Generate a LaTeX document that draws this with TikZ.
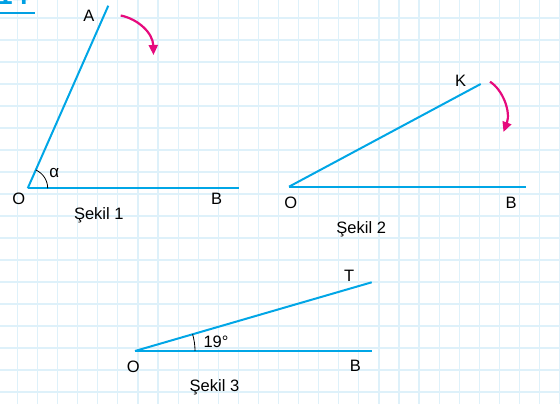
\documentclass[tikz,border=0pt]{standalone}
\usepackage{fontspec}
\setmainfont{Liberation Sans}
\usetikzlibrary{arrows.meta}
\definecolor{rayblue}{RGB}{0,166,230}
\definecolor{gridblue}{RGB}{222,241,250}
\definecolor{turnpink}{RGB}{230,10,125}
\definecolor{numblue}{RGB}{0,160,227}
\begin{document}
\begin{tikzpicture}[x=1pt, y=-1pt,
  gridline/.style={draw=gridblue, line width=1.2pt},
  ray/.style={draw=rayblue, line width=2pt},
  turn/.style={-{Triangle[length=10pt, width=9pt]}, draw=turnpink, line width=2.2pt},
  anglemark/.style={draw=black, line width=0.8pt},
  lbl/.style={anchor=base, inner sep=0pt, font=\fontsize{16.5}{18}\selectfont}]
\useasboundingbox (0,0) rectangle (560,404);
% kareli zemin
\foreach \i in {0,...,28} \draw[gridline] ({-2.6+20.08*\i},0) -- ++(0,404);
\foreach \j in {0,...,19} \draw[gridline] (0,{-4+22*\j}) -- ++(560,0);
% soru numarası
\node[anchor=base west, inner sep=0pt, text=numblue, font=\fontsize{28}{30}\selectfont\bfseries] (num) at (-3,4.5) {14};
\coordinate (u0) at (0,12.7);
\coordinate (u1) at (35,12.7);
\draw[draw=numblue, line width=2.3pt] (u0) -- (u1);
% şekil 1
\coordinate (O1) at (27.7,188.3);
\coordinate (A1) at (108.3,5.7);
\coordinate (B1) at (239,188.3);
\draw[ray] (O1) -- (A1);
\draw[ray] (O1) -- (B1);
\draw[anglemark] (O1) ++(0:20) arc[start angle=0, end angle=-66.2, radius=20];
\node[lbl, font=\fontsize{17}{18}\selectfont] (alpha) at (54.3,177.7) {α};
\node[lbl] (lA1) at (88.8,21.7) {A};
\node[lbl] (lO1) at (18.7,204.3) {O};
\node[lbl] (lB1) at (216.7,204.3) {B};
\node[lbl] (cap1) at (98.8,219.3) {Şekil 1};
\coordinate (t1s) at (120.7,15.5);
\coordinate (t1e) at (153.5,55);
\draw[turn] (t1s) .. controls (138,19) and (153,33) .. (t1e);
% şekil 2
\coordinate (O2) at (289,186.7);
\coordinate (K2) at (480.7,84);
\coordinate (B2) at (526,186.7);
\draw[ray] (O2) -- (K2);
\draw[ray] (O2) -- (B2);
\node[lbl] (lK2) at (460.5,86.7) {K};
\node[lbl] (lO2) at (290.7,208.3) {O};
\node[lbl] (lB2) at (511.2,208.3) {B};
\node[lbl] (cap2) at (361.2,233.3) {Şekil 2};
\coordinate (t2s) at (490,81.7);
\coordinate (t2e) at (503.5,132);
\draw[turn] (t2s) .. controls (503,90) and (511,112) .. (t2e);
% şekil 3
\coordinate (O3) at (135,351);
\coordinate (T3) at (371.7,282.3);
\coordinate (B3) at (371.7,351);
\draw[ray] (O3) -- (T3);
\draw[ray] (O3) -- (B3);
\draw[anglemark] (O3) ++(0:60) arc[start angle=0, end angle=-16.2, radius=60];
\node[lbl] (deg) at (216,347.3) {19°};
\node[lbl] (lT3) at (349.2,281.7) {T};
\node[lbl] (lO3) at (133.3,372.7) {O};
\node[lbl] (lB3) at (355.3,371) {B};
\node[lbl] (cap3) at (214.5,391) {Şekil 3};
\end{tikzpicture}
\end{document}
